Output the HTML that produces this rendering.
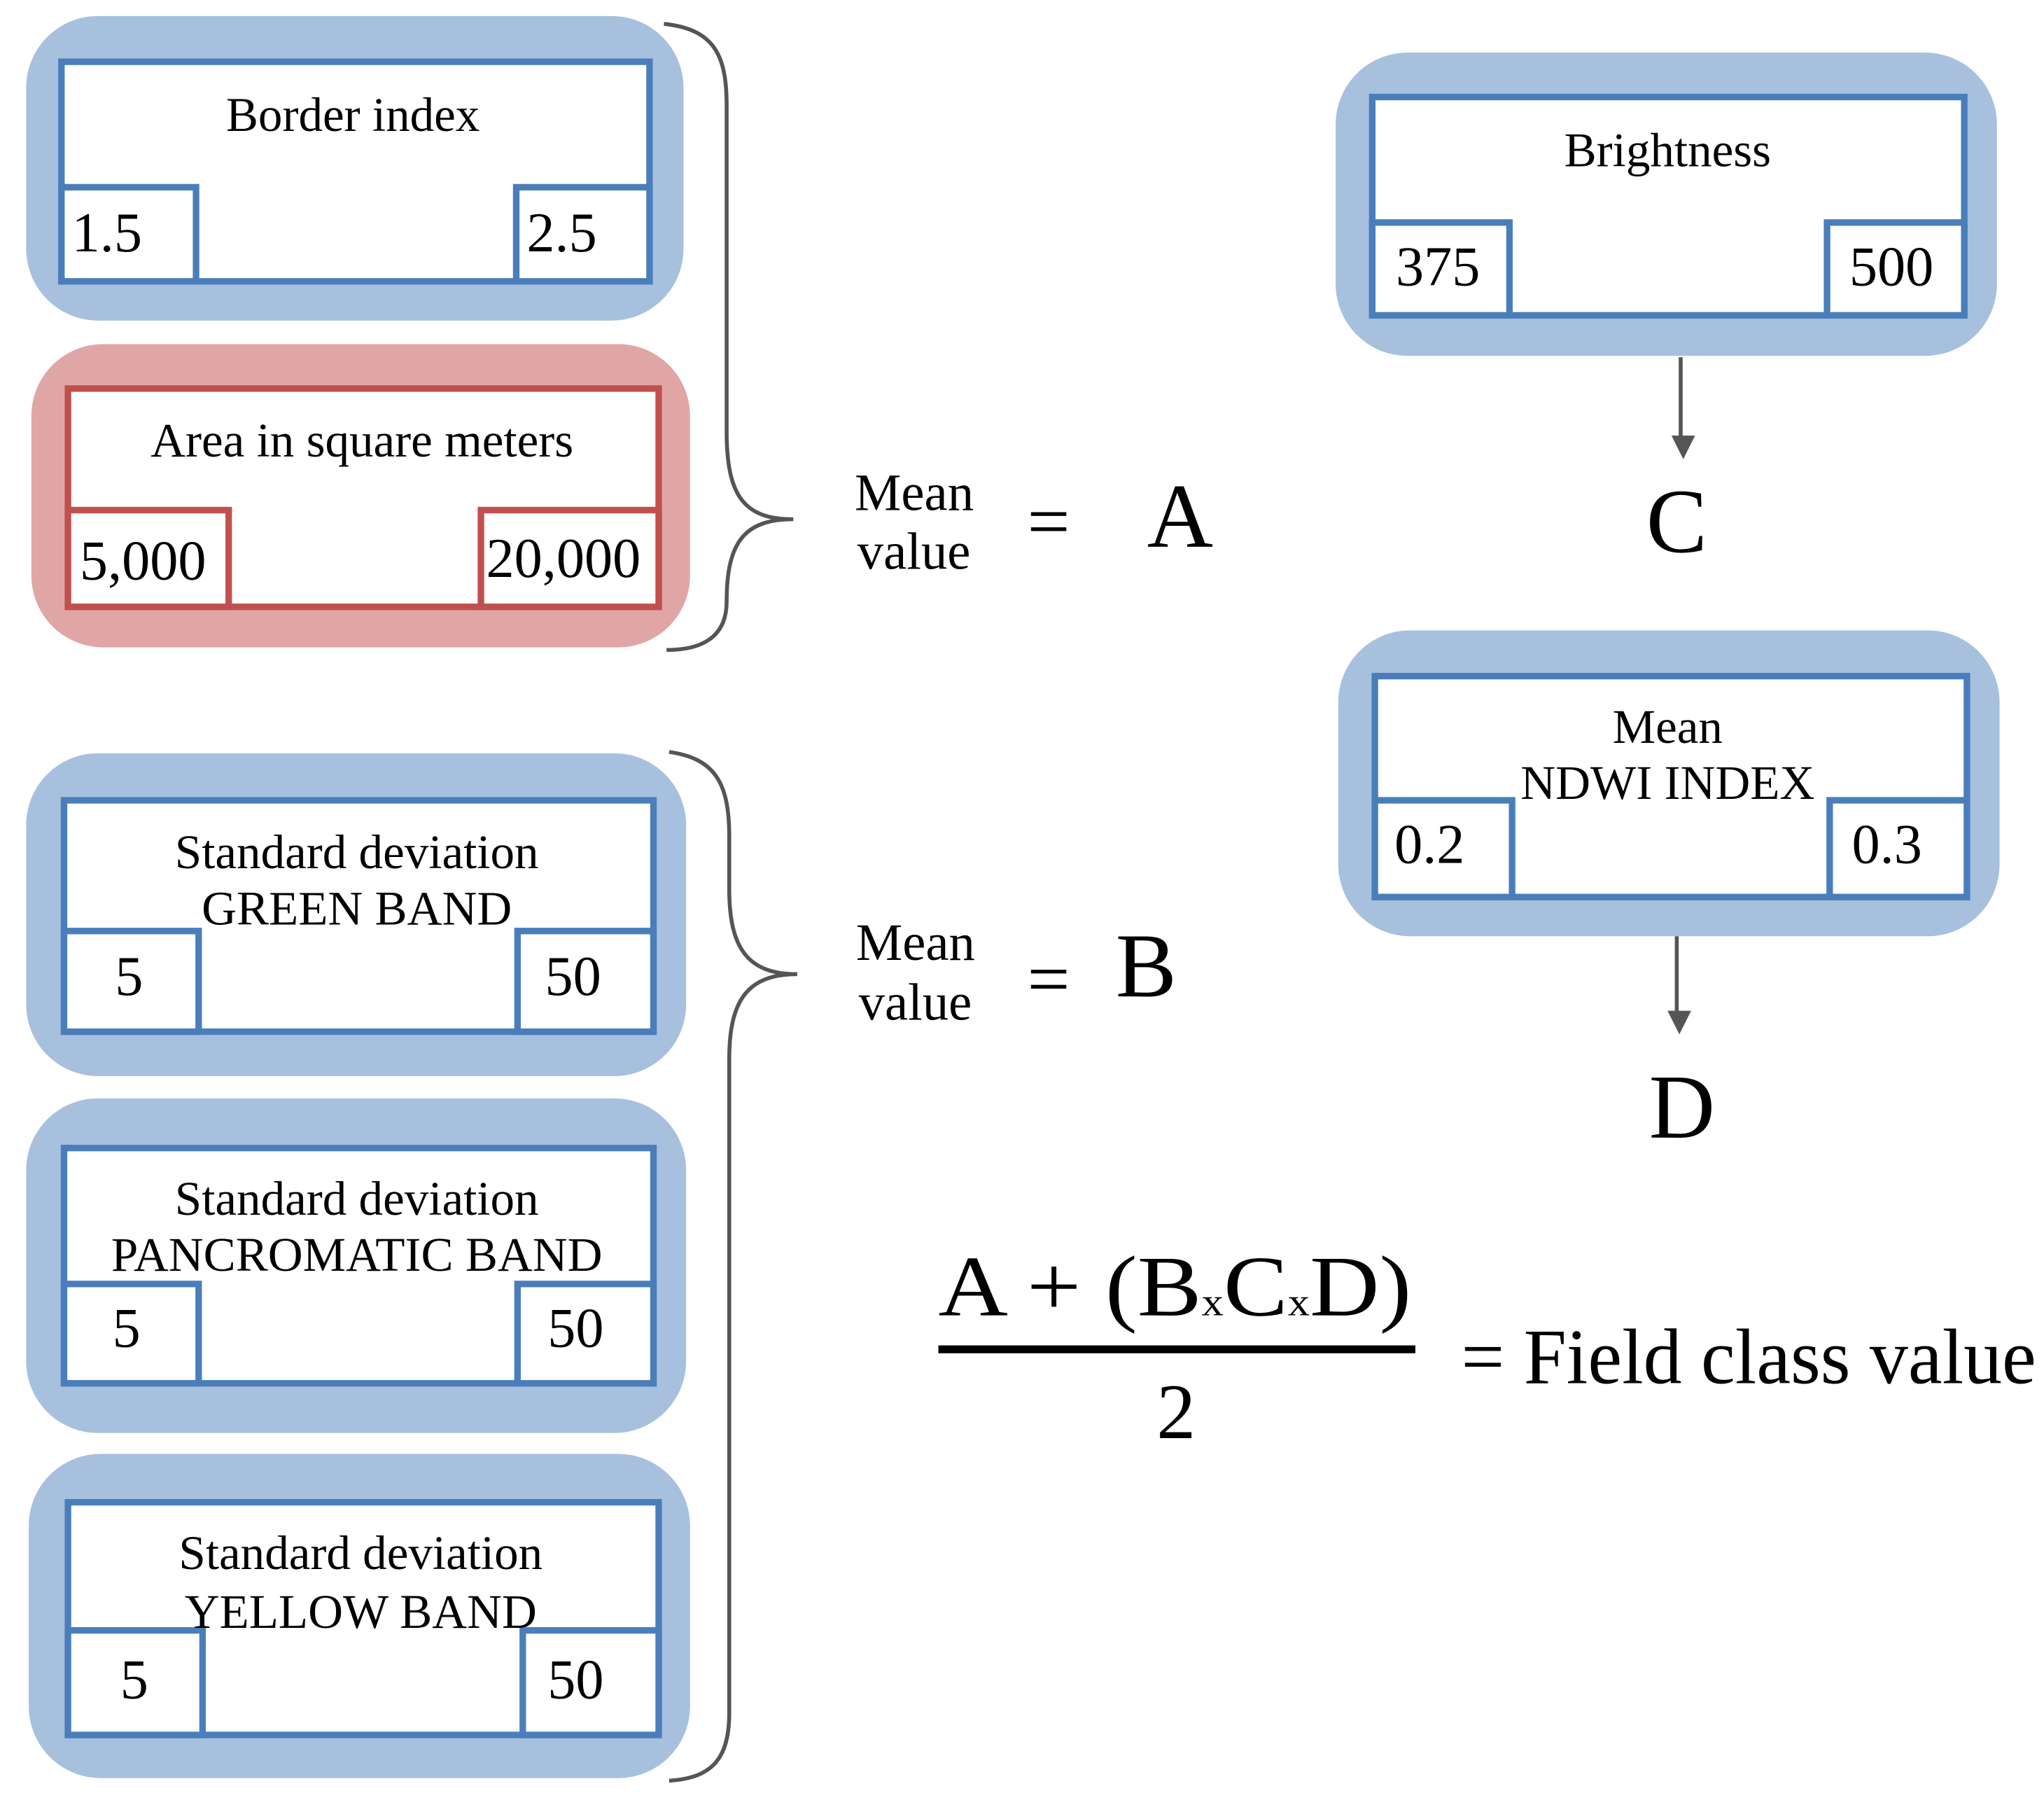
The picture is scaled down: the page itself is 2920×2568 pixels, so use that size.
<!DOCTYPE html>
<html><head><meta charset="utf-8"><style>
html,body{margin:0;padding:0;background:#fff}
svg{display:block}
text{font-family:"Liberation Serif",serif;fill:#000}
</style></head><body>
<svg width="2920" height="2568" viewBox="0 0 1564 1375" xmlns="http://www.w3.org/2000/svg">
<defs>
<marker id="ar" markerWidth="18" markerHeight="22" refX="9" refY="11" orient="auto" markerUnits="userSpaceOnUse">
<path d="M0,0 L22,11 L0,22 Z" fill="#555" transform="scale(0.82,0.82)"/></marker>
</defs>
<g stroke-width="5" fill="#fff">
<rect x="20" y="12" width="503" height="233" rx="55" fill="#a7c0de" stroke="none"/>
<rect x="47" y="47" width="450" height="168" stroke="#4a7ebb"/>
<rect x="47" y="143" width="103" height="72" stroke="#4a7ebb"/>
<rect x="395" y="143" width="102" height="72" stroke="#4a7ebb"/>
<rect x="24" y="263" width="504" height="232" rx="55" fill="#e0a6a6" stroke="none"/>
<rect x="52" y="297" width="452" height="167" stroke="#c0504d"/>
<rect x="52" y="390" width="123" height="74" stroke="#c0504d"/>
<rect x="368" y="390" width="136" height="74" stroke="#c0504d"/>
<rect x="1022" y="40" width="506" height="232" rx="55" fill="#a7c0de" stroke="none"/>
<rect x="1050" y="74" width="453" height="167" stroke="#4a7ebb"/>
<rect x="1050" y="170" width="105" height="71" stroke="#4a7ebb"/>
<rect x="1398" y="170" width="105" height="71" stroke="#4a7ebb"/>
<rect x="1024" y="482" width="506" height="234" rx="55" fill="#a7c0de" stroke="none"/>
<rect x="1052" y="517" width="453" height="169" stroke="#4a7ebb"/>
<rect x="1052" y="612" width="105" height="74" stroke="#4a7ebb"/>
<rect x="1400" y="612" width="105" height="74" stroke="#4a7ebb"/>
<rect x="20" y="576" width="505" height="247" rx="55" fill="#a7c0de" stroke="none"/>
<rect x="49" y="612" width="451" height="177" stroke="#4a7ebb"/>
<rect x="49" y="712" width="103" height="77" stroke="#4a7ebb"/>
<rect x="396" y="712" width="104" height="77" stroke="#4a7ebb"/>
<rect x="20" y="840" width="505" height="256" rx="55" fill="#a7c0de" stroke="none"/>
<rect x="49" y="878" width="451" height="180" stroke="#4a7ebb"/>
<rect x="49" y="982" width="103" height="76" stroke="#4a7ebb"/>
<rect x="396" y="982" width="104" height="76" stroke="#4a7ebb"/>
<rect x="22" y="1112" width="506" height="248" rx="55" fill="#a7c0de" stroke="none"/>
<rect x="52" y="1149" width="452" height="178" stroke="#4a7ebb"/>
<rect x="52" y="1247" width="103" height="80" stroke="#4a7ebb"/>
<rect x="400" y="1247" width="104" height="80" stroke="#4a7ebb"/>
</g>
<g fill="none" stroke="#555" stroke-width="3">
<path d="M508,18 C545,22 556,40 556,80 L556,330 C556,380 570,397 607,397 C570,397 556,414 556,460 C556,485 540,497 510,497"/>
<path d="M512,575 C548,580 558,600 558,640 L558,680 C558,725 572,745 610,745 C572,745 558,765 558,810 L558,1310 C558,1345 545,1360 512,1362"/>
</g>
<g stroke="#555" stroke-width="3">
<line x1="1286" y1="273" x2="1286" y2="342" marker-end="url(#ar)"/>
<line x1="1283" y1="716" x2="1283" y2="782" marker-end="url(#ar)"/>
</g>
<g font-size="37" text-anchor="middle">
<text x="270" y="100">Border index</text>
<text x="277" y="349">Area in square meters</text>
<text x="1276" y="127">Brightness</text>
<text x="1276" y="568">Mean</text>
<text x="1276" y="611">NDWI INDEX</text>
<text x="273" y="664">Standard deviation</text>
<text x="273" y="707">GREEN BAND</text>
<text x="273" y="929">Standard deviation</text>
<text x="273" y="972">PANCROMATIC BAND</text>
<text x="276" y="1200">Standard deviation</text>
<text x="276" y="1245">YELLOW BAND</text>
</g>
<g font-size="43">
<text x="55" y="192">1.5</text>
<text x="403" y="192">2.5</text>
<text x="61" y="443">5,000</text>
<text x="372" y="441">20,000</text>
<text x="1068" y="218">375</text>
<text x="1415" y="218">500</text>
<text x="1067" y="660">0.2</text>
<text x="1417" y="660">0.3</text>
<text x="88" y="761">5</text>
<text x="417" y="761">50</text>
<text x="86" y="1030">5</text>
<text x="419" y="1030">50</text>
<text x="92" y="1299">5</text>
<text x="419" y="1299">50</text>
</g>
<g font-size="40">
<text x="654" y="390">Mean</text>
<text x="656" y="435">value</text>
<text x="655" y="734">Mean</text>
<text x="657" y="780">value</text>
</g>
<g font-size="58">
<text x="786" y="418">=</text>
<text x="786" y="768">=</text>
</g>
<g font-size="70" text-anchor="middle">
<text x="903" y="418">A</text>
<text x="877" y="762">B</text>
<text x="1283" y="422">C</text>
<text x="1287" y="870">D</text>
</g>
<text x="718" y="1006" font-size="66" textLength="362" lengthAdjust="spacingAndGlyphs">A + (B<tspan font-size="30">x</tspan>C<tspan font-size="30">x</tspan>D)</text>
<rect x="718" y="1029" width="365" height="6" fill="#000"/>
<text x="900" y="1100" font-size="60" text-anchor="middle">2</text>
<text x="1118" y="1058" font-size="60" textLength="440" lengthAdjust="spacingAndGlyphs">= Field class value</text>
</svg>
</body></html>
